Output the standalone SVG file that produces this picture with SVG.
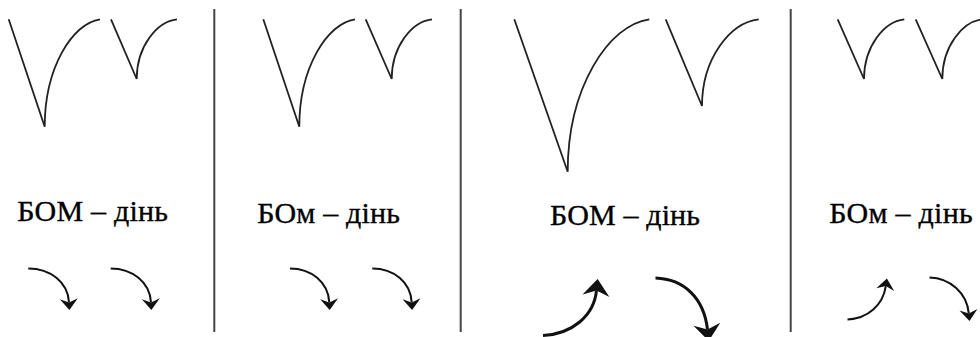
<svg xmlns="http://www.w3.org/2000/svg" width="980" height="337" viewBox="0 0 980 337">
<style>
.v{fill:none;stroke:#222;stroke-width:1.8;stroke-linejoin:miter}
.div{stroke:#444;stroke-width:2}
.arr{fill:none;stroke:#111;stroke-width:2;marker-end:url(#ah)}
.arr.thick{stroke-width:3}
.lbl{font-family:"Liberation Serif","DejaVu Serif",serif;font-size:30px;fill:#000;stroke:#000;stroke-width:0.35}
</style>
<defs>
<marker id="ah" viewBox="-6 -5 7 10" refX="-3.8" refY="0" markerWidth="7" markerHeight="10" markerUnits="strokeWidth" orient="auto" overflow="visible">
<path d="M0,0 L-5.6,-4.5 L-3.8,0 L-5.6,4.5 Z" fill="#111"/>
</marker>
</defs>
<rect width="980" height="337" fill="#fff"/>
<g id="dividers">
<line class="div" x1="214.3" y1="9" x2="214.3" y2="332"/>
<line class="div" x1="460.7" y1="9" x2="460.7" y2="332"/>
<line class="div" x1="790.7" y1="9" x2="790.7" y2="332"/>
</g>
<g id="panel1">
<path class="v" d="M8.7,19.3 L44.7,126.7 C44.7,67.7 72.4,23.3 100,19.3"/>
<path class="v" d="M111,19.3 L136.7,79 C136.7,46.2 157,21.5 177,19.3"/>
<text class="lbl" x="17.3" y="220.5" textLength="150.7">БОМ – дінь</text>
</g>
<g id="panel2">
<path class="v" d="M263.3,19.3 L299.3,126.7 C299.3,67.7 327.2,23.3 355,19.3"/>
<path class="v" d="M365.7,19.3 L391.7,79 C391.7,46.2 412,21.5 432,19.3"/>
<text class="lbl" x="257.3" y="222.8" textLength="142.7">БОм – дінь</text>
</g>
<g id="panel3">
<path class="v" d="M514.3,19.3 L567.7,171.7 C567.7,87.9 608.5,24.8 649.3,19.3"/>
<path class="v" d="M665.7,19.3 L702,106 C702,58.3 730.3,22.5 758.7,19.3"/>
<text class="lbl" x="550" y="225.3" textLength="150">БОМ – дінь</text>
</g>
<g id="panel4">
<path class="v" d="M837.7,19.3 L864,79 C864,46.2 884.2,21.5 904.3,19.3"/>
<path class="v" d="M915.7,19.3 L942.3,79 C942.3,46.2 962.5,21.5 982.6,19.3"/>
<text class="lbl" x="829.3" y="223" textLength="143.4">БОм – дінь</text>
</g>
<g id="connectors">
<path class="arr" d="M28.3,268.5 C50,268.5 68,282 69,302.4"/>
<path class="arr" d="M110.7,268.5 C132,268.5 150,282 151,302.4"/>
<path class="arr" d="M290,268.5 C311,268.5 328.3,282 329.3,302.4"/>
<path class="arr" d="M372.3,268.5 C393.5,268.5 410.7,282 411.7,302.4"/>
<path class="arr thick" d="M543,335.5 C572,334 594,316 596.5,290.4"/>
<path class="arr thick" d="M655.5,278 C684,279 704,298 707.5,329.6"/>
<path class="arr" d="M847.5,319.5 C868,318.5 883,305 885.8,286.1"/>
<path class="arr" d="M929.5,277.5 C950,278 967,293 968.8,313.4"/>
</g>
</svg>
